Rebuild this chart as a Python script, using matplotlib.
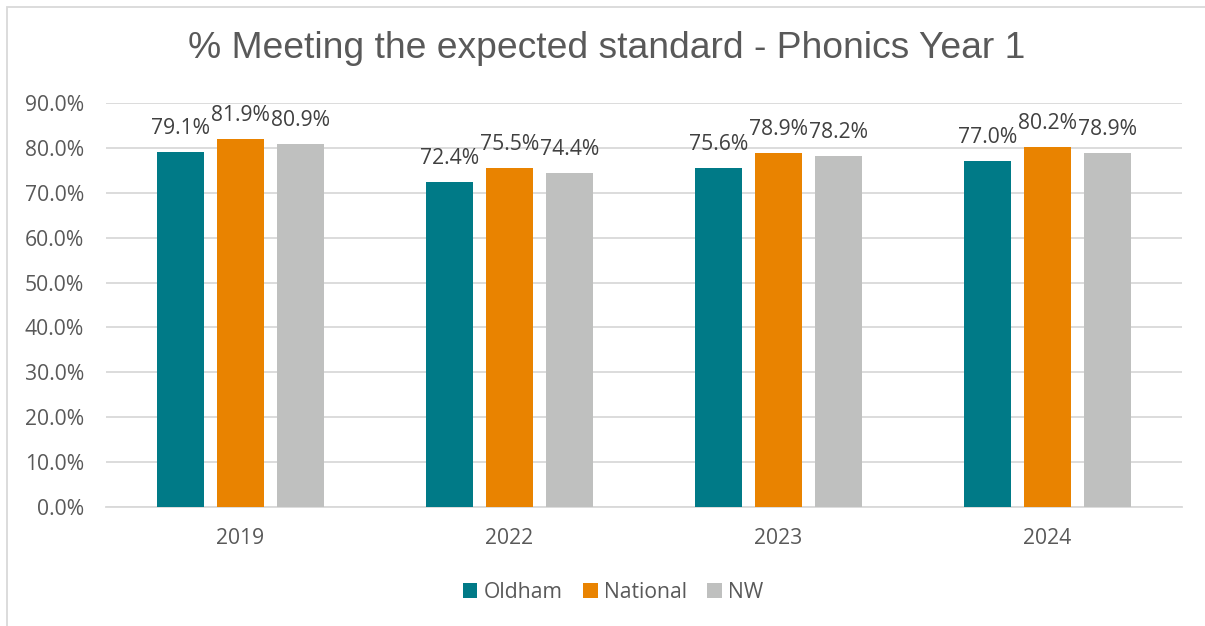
import matplotlib
matplotlib.use("Agg")
import matplotlib.pyplot as plt
from matplotlib.patches import Rectangle
from matplotlib.ticker import FuncFormatter, MultipleLocator
import numpy as np

years = ["2019", "2022", "2023", "2024"]
series_names = ["Oldham", "National", "NW"]
oldham = [0.791, 0.724, 0.756, 0.770]
national = [0.819, 0.755, 0.789, 0.802]
nw = [0.809, 0.744, 0.782, 0.789]
colors = ["#007A87", "#E98300", "#BFC0BF"]

title = "% Meeting the expected standard - Phonics Year 1"

W, H = 1205, 626
fig = plt.figure(figsize=(W / 100, H / 100), dpi=100)
fig.patch.set_facecolor("white")

# outer chart frame (partially cut off on right/bottom)
fig.patches.append(Rectangle((7 / W, -0.2), 1.3, 1 - 7 / H + 0.2,
                             transform=fig.transFigure, fill=False,
                             edgecolor="#D9D9D9", linewidth=1.3))

ax = fig.add_axes([106 / W, 1 - 507 / H, (1182 - 106) / W, (507 - 103) / H])

tick_font = "Open Sans"
fs = 15.2
x = np.arange(len(years))
width = 0.175
pitch = 0.223
data = [oldham, national, nw]
for i, (vals, c, name) in enumerate(zip(data, colors, series_names)):
    pos = x + (i - 1) * pitch
    bars = ax.bar(pos, vals, width=width, color=c, label=name, zorder=3)
    for xb, v in zip(pos, vals):
        ax.annotate(f"{v*100:.1f}%", (xb, v), xytext=(0, 13), textcoords="offset points",
                    ha="center", va="baseline", fontsize=fs, family=tick_font,
                    color="#404040", zorder=4)

ax.set_xlim(-0.5, len(years) - 0.5)
ax.set_ylim(0, 0.9)
ax.yaxis.set_major_locator(MultipleLocator(0.1))
ax.yaxis.set_major_formatter(FuncFormatter(lambda v, p: f"{v*100:.1f}%"))
ax.set_xticks(x)
ax.set_xticklabels(years)
ax.grid(axis="y", color="#D9D9D9", linewidth=1.3, zorder=0)
for s in ["top", "right", "left"]:
    ax.spines[s].set_visible(False)
ax.spines["bottom"].set_color("#D9D9D9")
ax.spines["bottom"].set_linewidth(1.3)
ax.tick_params(axis="both", length=0, labelsize=fs, colors="#595959")
ax.tick_params(axis="y", pad=16)
ax.tick_params(axis="x", pad=15)
for lbl in ax.get_xticklabels() + ax.get_yticklabels():
    lbl.set_family(tick_font)

fig.text(607 / W, 1 - 48 / H, title, ha="center", va="center",
         fontsize=26.8, family="Liberation Sans", color="#595959")

leg = fig.legend(loc="center", bbox_to_anchor=(613 / W, 1 - 592 / H), ncol=3,
                 frameon=False, prop={"family": tick_font, "size": fs},
                 handlelength=0.7, handleheight=0.7, handletextpad=0.3,
                 columnspacing=0.95)
for t in leg.get_texts():
    t.set_color("#595959")

fig.savefig("out.png", dpi=100, facecolor="white")
